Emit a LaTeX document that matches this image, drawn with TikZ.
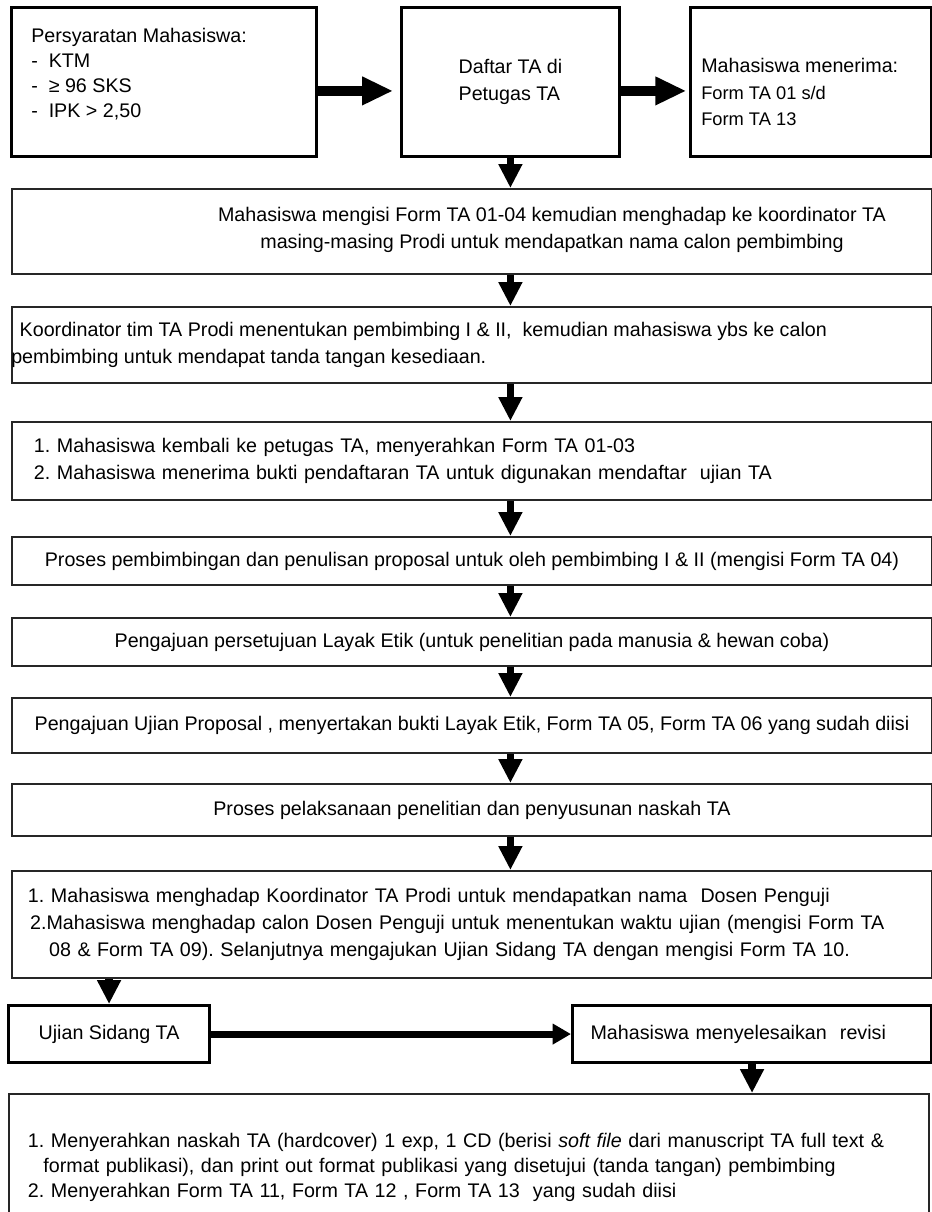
\documentclass[tikz,border=0pt]{standalone}
\usepackage{fontspec}
\setmainfont{Liberation Sans}
\usetikzlibrary{arrows.meta}
\def\unit{0.025cm}
\frenchspacing

\begin{document}
\begin{tikzpicture}[x=\unit, y=-\unit]
  \tikzstyle{every node}=[font=\fontsize{14}{19}\selectfont]
  \tikzstyle{topbox}=[draw, line width=2pt, anchor=north west, inner sep=0pt, minimum height=149*\unit]
  \tikzstyle{stepbox}=[draw=black!85, line width=1.4pt, anchor=north west, inner sep=0pt, minimum width=920*\unit]
  \tikzstyle{endbox}=[draw, line width=2.2pt, anchor=north west, inner sep=0pt, minimum height=57*\unit]
  \tikzstyle{txt}=[anchor=west, align=left, inner sep=0pt]
  \tikzstyle{bigarrow}=[-{Triangle[width=19pt,length=22pt]}, line width=7pt]
  \tikzstyle{midarrow}=[-{Triangle[width=14pt,length=13pt]}, line width=5pt]
  \tikzstyle{downarrow}=[-{Triangle[width=16pt,length=17pt]}, line width=5.5pt]

  \useasboundingbox (0,0) rectangle (932,1212);

  % Draw the top row
  \node[topbox, minimum width=305*\unit] (req) at (10,6) {};
  \node[txt, anchor=north west, font=\fontsize{14}{17.8}\selectfont] (req-txt) at (31,28)
    {Persyaratan Mahasiswa:\\-\ \ KTM\\-\ \ ≥ 96 SKS\\-\ \ IPK > 2,50};
  \node[topbox, minimum width=218*\unit, align=left] (daftar) at (400,6) {Daftar TA di\\Petugas TA};
  \node[topbox, minimum width=241*\unit] (terima) at (689,6) {};
  \node[txt, anchor=north west] (terima-txt) at (701,58)
    {Mahasiswa menerima:\\\fontsize{13}{18}\selectfont Form TA 01 s/d\\\fontsize{13}{18}\selectfont Form TA 13};

  % Draw the steps
  \node[stepbox, minimum height=85*\unit] (S-1) at (11,188) {};
  \node[align=center, inner sep=0pt] (S-1-txt) at (552,230)
    {Mahasiswa mengisi Form TA 01-04 kemudian menghadap ke koordinator TA\\masing-masing Prodi untuk mendapatkan nama calon pembimbing};
  \node[stepbox, minimum height=76*\unit] (S-2) at (11,306) {};
  \node[txt] (S-2-txt) at (S-2.west)
    {\hspace{6pt}Koordinator tim TA Prodi menentukan pembimbing I \& II,\ \ kemudian mahasiswa ybs ke calon\\pembimbing untuk mendapat tanda tangan kesediaan.};
  \node[stepbox, minimum height=78*\unit, inner xsep=22*\unit, text width=876*\unit, align=left] (S-3) at (11,421)
    {1. Mahasiswa kembali ke petugas TA, menyerahkan Form TA 01-03\\2. Mahasiswa menerima bukti pendaftaran TA untuk digunakan mendaftar\ \ ujian TA};
  \node[stepbox, minimum height=48*\unit] (S-4) at (11,536)
    {Proses pembimbingan dan penulisan proposal untuk oleh pembimbing I \& II (mengisi Form TA 04)};
  \node[stepbox, minimum height=48*\unit] (S-5) at (11,617)
    {Pengajuan persetujuan Layak Etik (untuk penelitian pada manusia \& hewan coba)};
  \node[stepbox, minimum height=55*\unit] (S-6) at (11,697)
    {Pengajuan Ujian Proposal , menyertakan bukti Layak Etik, Form TA 05, Form TA 06 yang sudah diisi};
  \node[stepbox, minimum height=52*\unit] (S-7) at (11,783)
    {Proses pelaksanaan penelitian dan penyusunan naskah TA};
  \node[stepbox, minimum height=107*\unit, inner xsep=16*\unit, text width=888*\unit, align=left] (S-8) at (11,870)
    {1. Mahasiswa menghadap Koordinator TA Prodi untuk mendapatkan nama\ \ Dosen Penguji\\
     \hspace{1.5pt}2.Mahasiswa menghadap calon Dosen Penguji untuk menentukan waktu ujian (mengisi Form TA\\
     \hspace{15pt}08 \& Form TA 09). Selanjutnya mengajukan Ujian Sidang TA dengan mengisi Form TA 10.};

  % Draw the last row
  \node[endbox, minimum width=201*\unit] (ujian) at (7,1004) {Ujian Sidang TA};
  \node[endbox, minimum width=359*\unit, inner xsep=18*\unit, text width=323*\unit, align=left] (revisi) at (571,1004)
    {Mahasiswa menyelesaikan\ \ revisi};
  \node[stepbox, minimum height=146*\unit, inner xsep=19*\unit, text width=882*\unit, align=left,
        font=\fontsize{14}{17.8}\selectfont] (serah) at (8,1093)
    {1. Menyerahkan naskah TA (hardcover) 1 exp, 1 CD (berisi \textit{soft file} dari manuscript TA full text \&\\
     \hspace{11pt}format publikasi), dan print out format publikasi yang disetujui (tanda tangan) pembimbing\\
     2. Menyerahkan Form TA 11, Form TA 12 , Form TA 13\ \ yang sudah diisi};

  % Connect top row
  \draw[bigarrow, shorten >=5pt] ([yshift=-9*\unit]req.east) -- ([yshift=-9*\unit]daftar.west);
  \draw[bigarrow, shorten >=2pt] ([yshift=-9*\unit]daftar.east) -- ([yshift=-9*\unit]terima.west);
  \draw[downarrow] (daftar.south) -- (daftar.south |- S-1.north);

  % Connect steps
  \foreach \a/\b in {1/2,2/3,3/4,4/5,5/6,6/7,7/8}
    \draw[downarrow] (daftar.south |- S-\a.south) -- (daftar.south |- S-\b.north);

  % Connect last row
  \draw[downarrow] (ujian.north |- S-8.south) -- (ujian.north);
  \draw[midarrow] (ujian.east) -- (revisi.west);
  \draw[downarrow] (revisi.south) -- (revisi.south |- serah.north);
\end{tikzpicture}
\end{document}
